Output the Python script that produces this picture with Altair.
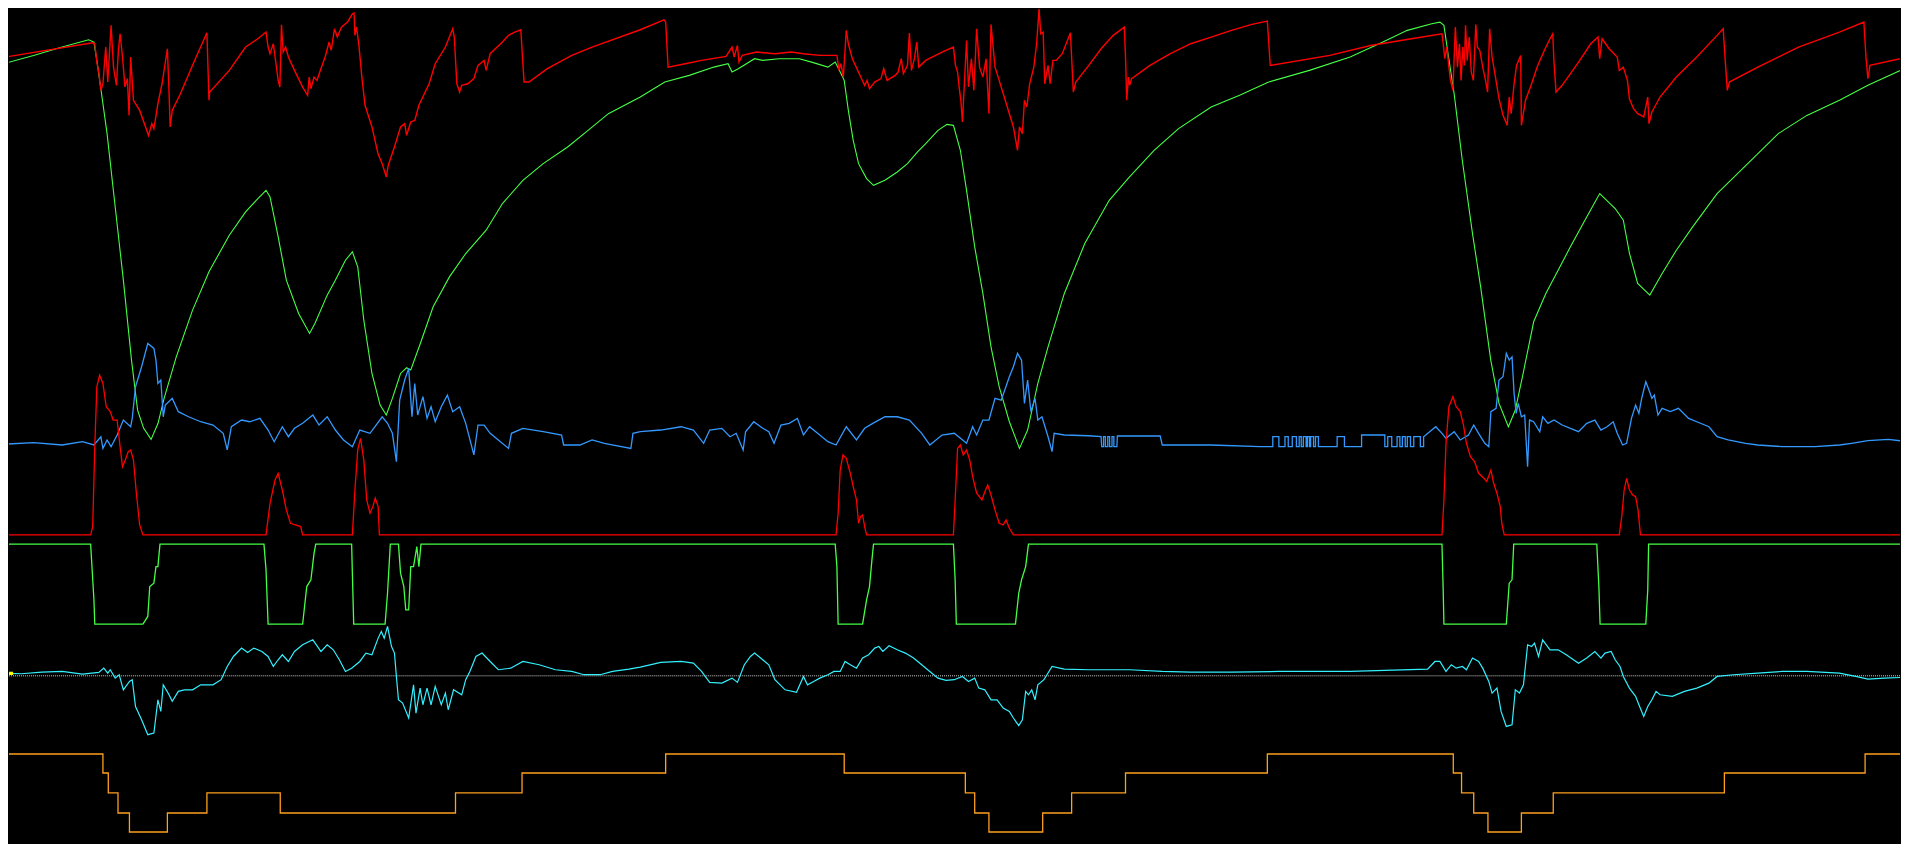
import altair as alt
import pandas as pd

# Time axis (sample index) and values in the chart's own unit (0 = top row, 700 = bottom row)
speed_pts = [
    (0, 47.1), (75.4, 34.8), (77.1, 35.6), (78.8, 50.7), (80.4, 58.9), (82.1, 73.9), (83.8, 68.5), (86.1, 38.3),
    (87.8, 67.1), (90.5, 20.5), (92.5, 54.8), (94.9, 69.8), (96.5, 41.1), (97.9, 27.4), (99.9, 46.5), (101.9, 71.2),
    (103.9, 64.3), (105.3, 94.5), (106.6, 46.5), (108.9, 82.1), (114, 90.4), (121.3, 110.9), (124, 101.3),
    (125.7, 105.4), (129, 84.9), (132.4, 68.5), (136.8, 39.7), (138.1, 73.9), (139.1, 104), (140.8, 90.4),
    (147.5, 76.7), (159.2, 49.3), (169.3, 26.6), (171, 82.1), (171.6, 75.3), (187.7, 57.5), (201.1, 38.3),
    (211.2, 31.5), (217.9, 26), (219.6, 38.3), (221.2, 43.8), (223.9, 35.6), (227.9, 65.7), (229.3, 71.2),
    (230.6, 20), (232, 42.4), (234, 38.3), (236.3, 46.5), (241.3, 57.5), (248, 71.2), (252.1, 78), (253.4, 63),
    (254.8, 72.6), (257.4, 63), (259.8, 65.7), (262.1, 58.9), (266.5, 46.5), (269.8, 34.2), (271.5, 41.1),
    (274.2, 23.3), (276.5, 30.1), (279.9, 21.9), (284.9, 17.8), (288.9, 11), (290.3, 10.4), (291, 28.7),
    (292.3, 21.9), (294.3, 37), (296.7, 63), (299.3, 86.2), (305, 104), (310, 126), (313.4, 134.2),
    (316.8, 145.1), (318.4, 135.5), (323.5, 120.5), (328.5, 104), (331.9, 101.3), (333.5, 110.9), (336.9, 99.9),
    (340.2, 98.6), (343.6, 86.2), (352, 68.5), (357, 52), (365.4, 38.3), (371.4, 23.3), (372.7, 30.1),
    (374.8, 68.5), (377.1, 75.3), (378.8, 69.8), (383.8, 68.5), (388.8, 64.3), (392.2, 53.4), (397.2, 49.3),
    (398.9, 57.5), (402.2, 43.8), (412.3, 34.2), (417.3, 28.7), (422.4, 26), (427.4, 24.1), (429.1, 52),
    (430.1, 67.1), (434.1, 67.1), (449.2, 56.1), (469.3, 45.2), (486, 38.3), (525.6, 24.1),
    (545.1, 15.9), (546.5, 17.8), (548.5, 54.8), (562.6, 52), (576, 49.3), (596.1, 46), (601.1, 38.3),
    (602.8, 46.5), (605.5, 37), (606.8, 50.7), (609.5, 45.2), (621.2, 42.4), (636.3, 43.8), (649.7, 42.4),
    (659.8, 43.8), (673.2, 45.2), (687.3, 45.2), (689, 57.5), (690.6, 52), (692.6, 63), (695, 24.6),
    (696.7, 35.6), (700, 47.9), (705, 58.9), (710.1, 69.8), (712.1, 65.7), (714.1, 72.6), (718.4, 67.1),
    (723.5, 64.3), (725.8, 56.1), (728.5, 65.7), (735.2, 61.6), (737.6, 58.9), (740.2, 47.9), (741.9, 60.2),
    (745.3, 53.4), (746.9, 26.8), (748.6, 57.5), (751, 47.9), (753, 34.2), (754.6, 54.8), (760.3, 49.3),
    (773.7, 42.4), (783.1, 38.3), (784.8, 53.4), (786.5, 58.9), (787.8, 71.2), (789.2, 82.1), (790.5, 99.9),
    (792.5, 60.2), (793.9, 32.9), (795.5, 71.2), (797.9, 47.9), (799.9, 73.9), (802.2, 23.3), (804.6, 54.8),
    (807.3, 63), (810, 47.9), (812.3, 93.1), (814, 19.7), (817.3, 54.8), (820.7, 65.7), (827.4, 87.6),
    (832.4, 104), (835.8, 123.2), (837.4, 104), (839.8, 109.5), (841.5, 82.1), (843.5, 87.6), (845.8, 68.5),
    (849.2, 54.8), (851.5, 35.6), (853.5, 6.8), (854.9, 27.4), (856.9, 26), (858.2, 68.5), (860.9, 53.4),
    (862.6, 68.5), (864.9, 49.3), (867.6, 49.3), (872.6, 43.8), (879.3, 26.6), (881.7, 75.3), (883.7, 67.1),
    (894.4, 53.4), (904.5, 39.7), (914.5, 28.7), (923.6, 21.9), (924.6, 46.5), (925.6, 82.1), (927, 63),
    (928, 69.8), (929.6, 64.3), (944.7, 53.4), (961.5, 43.8), (978.2, 35.6), (995, 30.1), (1011.7, 24.6),
    (1028.5, 19.7), (1041.2, 17), (1043.6, 53.4),
    (1092.6, 45.2), (1126.1, 37), (1159.6, 31.5), (1184.8, 27.4), (1185.8, 35.6), (1187.1, 47.9),
    (1188.8, 38.3), (1190.5, 54.8), (1191.8, 65.7), (1193.8, 73.9), (1195.8, 21.9), (1197.5, 54.8),
    (1199.2, 35.6), (1200.5, 65.7), (1201.9, 38.3), (1203.2, 53.4), (1204.2, 20.5), (1205.5, 49.3),
    (1207.2, 30.1), (1208.9, 58.9), (1210.6, 65.7), (1212.6, 19.7), (1213.9, 38.3), (1215.9, 41.1),
    (1218.3, 54.8), (1220.6, 65.7), (1222.3, 75.3), (1224, 23.3), (1226, 46.5), (1228.3, 60.2), (1231.7, 80.8),
    (1235, 94.5), (1238.4, 102.7), (1240.1, 79.4), (1241.7, 93.1), (1244.1, 68.5), (1246.1, 53.4),
    (1249.5, 45.2), (1250.1, 102.7), (1253.5, 82.1), (1258.5, 68.5), (1263.5, 53.4), (1269.6, 39.7),
    (1273.6, 31.5), (1275.9, 27.4), (1276.9, 50.7), (1278.6, 75.3), (1283.6, 69.8), (1297.1, 50.7),
    (1307.1, 35.6), (1313.1, 30.1), (1314.5, 47.9), (1316.5, 31.5), (1322.2, 39.7), (1328.9, 46.5),
    (1330.6, 57.5), (1333.9, 54.8), (1337.3, 65.7), (1338.9, 80.8), (1342.3, 89), (1345.7, 93.1),
    (1350.7, 95.8), (1354, 79.4), (1355, 101.3), (1357.4, 91.7), (1364.1, 79.4), (1377.5, 63), (1394.3, 46.5),
    (1411, 28.7), (1416, 23.3), (1417.7, 49.3), (1419.4, 73.9), (1421.1, 67.1), (1444.5, 54.8), (1478, 38.3),
    (1511.6, 26), (1531.7, 17.8), (1533.4, 46.5), (1535, 64.3), (1536.7, 53.4), (1568, 46.5),
]

rpm_pts = [
    (0, 52.6), (26.8, 45.2), (50.3, 38.3), (72.1, 32.3), (76.4, 34.2), (78.8, 49.3), (82.1, 72.6), (87.2, 109.5),
    (93.9, 169.8), (100.6, 230), (107.3, 295.7), (112.3, 336.8), (117.3, 351.8), (123.4, 360.9), (129.1, 347.7),
    (134.1, 327.2), (144.1, 293), (157.5, 254.6), (171, 223.1), (187.7, 193), (201.1, 173.9), (211.2, 162.9),
    (217.9, 156.1), (221.2, 161.5), (227.9, 194.4), (234.6, 230), (244.7, 257.4), (253.7, 273.8),
    (258.1, 265.6), (268.2, 242.3), (274.9, 230), (283.2, 213.6), (288.9, 206.7), (293.3, 219), (298.3, 262.8),
    (305, 306.7), (311.7, 332.7), (316.8, 340.9), (321.8, 327.2), (328.5, 306.7), (333.5, 302), (336.9, 303.9),
    (345.3, 280.6), (355.3, 251.9), (368.7, 227.3), (382.1, 208.1), (398.9, 188.9), (412.3, 167),
    (429.1, 147.9), (445.8, 134.2), (465.9, 120.5), (482.7, 106.8), (499.4, 93.1), (525.6, 79.4),
    (545.8, 67.1), (565.9, 61.6), (586.1, 54.8), (597.8, 52), (601.1, 58.9), (606.2, 56.1), (619.6, 47.9),
    (626.3, 49.3), (639.7, 47.9), (656.4, 47.9), (666.5, 50.7), (679.9, 54.8), (685.9, 50.7), (690, 58.9),
    (693.3, 65.7), (696.7, 90.4), (700.7, 115), (705.1, 134.2), (711.7, 146.5), (717.4, 152), (726.8, 147.9),
    (736.9, 141), (745.3, 134.2), (753.6, 124.6), (760.3, 117.7), (770.4, 106.8), (777.8, 101.9),
    (783.1, 102.7), (788.8, 123.2), (793.9, 156.1), (800.6, 202.6), (807.3, 240.9), (814, 284.8),
    (820.7, 317.6), (829.1, 346.4), (837.4, 368.3), (844.1, 353.2), (852.5, 314.9), (860.9, 284.8),
    (874.3, 240.9), (891.1, 199.9), (911.2, 164.3), (927.9, 145.1), (948.1, 123.2), (968.2, 105.4),
    (995, 87.6), (1018.4, 78), (1042.3, 67.1),
    (1075.8, 57.5), (1109.3, 46.5), (1136.2, 34.2), (1156.3, 24.6), (1176.4, 19.2), (1183.1, 17.8),
    (1186.4, 20.5), (1189.8, 43.8), (1194.8, 76.7), (1201.5, 131.4), (1209.9, 191.7), (1216.6, 235.5),
    (1224.9, 295.7), (1231.7, 331.3), (1239.4, 350.5), (1245.1, 336.8), (1251.8, 305.3), (1260.2, 264.2),
    (1270.2, 240.9), (1280.3, 221.8), (1290.4, 202.6), (1303.8, 178), (1314.5, 158.8), (1327.2, 171.1),
    (1333.9, 180.7), (1339, 208.1), (1345.7, 232.7), (1355.7, 242.3), (1365.8, 224.5), (1377.5, 205.4),
    (1390.9, 186.2), (1411, 158.8), (1427.8, 142.4), (1461.3, 109.5), (1484.8, 94.5), (1511.6, 82.1),
    (1535, 69.8), (1567.9, 54.8),
]

steer_pts = [
    (0, 365), (26.8, 363.6), (50.3, 365.5), (67, 362.8), (76.4, 365.5), (82.1, 358.7), (83.8, 368.3),
    (87.2, 361.4), (90.5, 366.9), (95.5, 357.3), (100.6, 345), (106.6, 350.5), (107.9, 343.6), (110.6, 317.6),
    (115.6, 301.2), (120.7, 282), (125.7, 286.1), (127.4, 295.7), (129, 314.9), (131.4, 312.1), (133.4, 342.3),
    (135.1, 332.7), (140.8, 327.2), (145.8, 338.1), (154.2, 342.3), (164.2, 346.4), (174.3, 349.1),
    (182.7, 355.9), (186, 369.6), (189.4, 350.5), (197.8, 345), (204.5, 346.4), (212.9, 343.6), (219.6, 353.2),
    (224.6, 362.8), (231.3, 350.5), (236.3, 358.7), (241.3, 351.8), (248, 347.7), (256.4, 340.9),
    (261.5, 349.1), (268.2, 342.3), (274.9, 353.2), (281.6, 361.4), (288.9, 366.9), (295, 353.2),
    (303.4, 355.9), (308.4, 349.1), (313.4, 342.3), (317.8, 347.7), (321.8, 355.9), (325.1, 379.2),
    (327.8, 328.6), (331.9, 312.1), (335.2, 302.5), (337.9, 342.3), (340.2, 314.9), (342.6, 340.9),
    (346.9, 325.8), (350.3, 343.6), (353.6, 334), (357, 346.4), (362, 334), (367, 324.5), (371.4, 338.1),
    (377.1, 334), (382.1, 347.7), (388.8, 373.7), (392.2, 349.1), (397.2, 349.1), (402.2, 355.9),
    (408.9, 361.4), (417.3, 368.3), (419.7, 355.9), (429.1, 351.8), (445.8, 354.6), (460.9, 357.3),
    (462.6, 365.5), (476, 365.5), (486, 361.4), (496.1, 364.1), (517.9, 368.3), (519.6, 355.9), (525.6, 354.6),
    (542.5, 353.2), (559.2, 350.5), (569.3, 353.2), (577.7, 364.1), (582.7, 353.2), (592.7, 351.8),
    (599.4, 358.7), (604.5, 355.9), (610.2, 369.6), (612.2, 354.6), (618.9, 346.4), (626.3, 351.8),
    (631.3, 354.6), (635.6, 364.1), (641.3, 349.1), (648.1, 347.7), (654.8, 343.6), (659.8, 357.3),
    (664.8, 350.5), (673.2, 357.3), (679.9, 362.8), (686.6, 365.5), (695, 350.5), (703.4, 361.4),
    (710.1, 351.8), (716.8, 347.7), (726.8, 342.3), (736.9, 342.3), (746.9, 345), (757, 355.9), (763.7, 365.5),
    (773.7, 357.3), (783.8, 355.9), (793.9, 364.1), (798.9, 350.5), (802.2, 357.3), (807.3, 345),
    (812.3, 345), (817.3, 327.2), (822.4, 328.6), (829.1, 309.4), (832.4, 301.2), (835.8, 290.2),
    (839.1, 295.7), (841.5, 331.3), (844.1, 312.1), (846.8, 338.1), (850.2, 327.2), (852.5, 345),
    (855.9, 342.3), (860.9, 358.7), (864.2, 371), (865.9, 355.9), (874.3, 357.3), (894.4, 357.9),
    (904.5, 358.7), (905, 366.9), (906.5, 366.9), (906.5, 358.7), (908, 358.7), (908, 366.9), (910, 366.9),
    (910, 358.7), (911.5, 358.7), (911.5, 366.9), (913.5, 366.9), (913.5, 358.7), (915, 358.7), (915, 366.9),
    (917.5, 366.9), (917.9, 358), (953.1, 358.1), (954.8, 365.5), (995, 365.5), (1035.2, 366.9),
    (1045.7, 366.9), (1045.7, 358.7), (1050.7, 358.7), (1050.7, 366.9), (1055.7, 366.9), (1055.7, 358.7),
    (1058.4, 358.7), (1058.4, 366.9), (1061.7, 366.9), (1061.7, 358.7), (1065.1, 358.7), (1065.1, 366.9),
    (1067.4, 366.9), (1067.4, 358.7), (1069.1, 358.7), (1069.1, 366.9), (1070.8, 366.9), (1070.8, 358.7),
    (1073.1, 358.7), (1073.1, 366.9), (1074.1, 366.9), (1074.1, 358.7), (1075.8, 358.7), (1075.8, 366.9),
    (1076.8, 366.9), (1076.8, 358.7), (1079.2, 358.7), (1079.2, 366.9), (1080.8, 366.9), (1080.8, 358.7),
    (1083.2, 358.7), (1083.2, 366.9), (1098.6, 366.9), (1098.6, 358.7), (1104.6, 358.7), (1104.6, 366.9),
    (1118.7, 366.9), (1118.7, 357.3), (1137.8, 357.3), (1137.8, 366.9), (1140.2, 366.9), (1140.2, 358.7),
    (1143.5, 358.7), (1143.5, 366.9), (1147.9, 366.9), (1147.9, 358.7), (1150.2, 358.7), (1150.2, 366.9),
    (1152.2, 366.9), (1152.2, 358.7), (1154.6, 358.7), (1154.6, 366.9), (1156.3, 366.9), (1156.3, 358.7),
    (1158.9, 358.7), (1158.9, 366.9), (1161.6, 366.9), (1161.6, 358.7), (1167, 358.7), (1167, 366.9),
    (1169.7, 366.9), (1169.7, 358.7), (1176.4, 353.2), (1179.7, 350.5), (1184.8, 355.9), (1188.1, 360),
    (1194.8, 354.6), (1199.8, 361.4), (1206.6, 357.3), (1210.9, 349.1), (1214.9, 355.9), (1220, 364.1),
    (1223.3, 366.9), (1225, 338.1), (1229.3, 335.4), (1231.7, 312.1), (1235, 309.4), (1237.7, 290.2),
    (1240.1, 295.7), (1242.4, 293), (1244.1, 323.1), (1245.8, 339.5), (1247.5, 331.3), (1250.1, 342.3),
    (1252.8, 340.9), (1255.2, 383.3), (1256.8, 345), (1260.2, 346.4), (1265.2, 354.6), (1267.6, 342.3),
    (1271.9, 347.7), (1276.9, 345), (1283.6, 349.1), (1290.4, 351.8), (1297.1, 354.6), (1303.8, 347.7),
    (1310.5, 345), (1315.5, 353.2), (1320.5, 350.5), (1325.6, 346.4), (1328.9, 355.9), (1333.3, 365.5),
    (1336.6, 364.1), (1340.6, 343.6), (1344, 332.7), (1346.7, 339.5), (1349, 327.2), (1352.4, 313.5),
    (1355, 320.3), (1357.4, 327.2), (1359.4, 324.5), (1362.4, 340.9), (1365.8, 335.4), (1372.5, 338.1),
    (1379.2, 335.4), (1387.6, 343.6), (1394.3, 346.4), (1404.3, 350.5), (1411, 358.7), (1420.1, 361.4),
    (1434.5, 364.1), (1444.5, 365.5), (1464.6, 366.9), (1491.5, 366.9), (1511.6, 365.5), (1521.6, 364.1),
    (1535, 362), (1551.8, 360.9), (1567.9, 362.8),
]

brake_pts = [
    (0, 439.4), (73.7, 439.4), (75.4, 432.6), (77.1, 366.9), (78.8, 317.6), (81.1, 308), (83.8, 314.9),
    (86.5, 334), (89.8, 338.1), (92.2, 345), (95.5, 345), (97.9, 366.9), (99.9, 383.3), (102.2, 377.8),
    (104.6, 371), (106.6, 369.6), (108.9, 377.8), (111.3, 405.2), (114, 431.2), (116.7, 439.4), (217.9, 439.4),
    (221.2, 413.4), (225.3, 394.3), (227.9, 388.8), (231.3, 402.5), (234.6, 418.9), (238, 429.9),
    (246.4, 432.6), (248, 439.4), (288.9, 439.4), (291, 402.5), (293.3, 369.6), (295.6, 360), (298.3, 377.8),
    (300.7, 410.7), (303.4, 421.6), (305.7, 416.2), (307.7, 409.3), (310.1, 416.2), (311.1, 439.4),
    (686.6, 439.4), (688.3, 421.6), (690, 386.1), (692.3, 373.7), (695, 376.5), (698.3, 388.8), (700.7, 399.7),
    (703.4, 410.7), (705.1, 429.9), (706.7, 424.4), (708.4, 423), (710.1, 432.6), (711.7, 439.4),
    (783.1, 439.4), (784.8, 405.2), (786.5, 368.3), (788.8, 365.5), (791.2, 373.7), (793.9, 369.6),
    (796.5, 377.8), (798.9, 391.5), (802.2, 405.2), (806.6, 410.7), (809, 403.8), (811.3, 398.4), (814, 406.6),
    (817.3, 418.9), (820.7, 429.9), (824, 431.2), (826.4, 427.1), (829.1, 434), (832.4, 439.4),
    (1184.8, 439.4), (1186.4, 410.7), (1188.1, 364.1), (1190.5, 334), (1193.8, 325.8), (1196.5, 334),
    (1199.8, 338.1), (1202.5, 349.1), (1204.9, 364.1), (1208.2, 375.1), (1211.6, 379.2), (1214.9, 388.8),
    (1219.3, 392.9), (1221.6, 395.6), (1225, 386.1), (1227.3, 397), (1230, 405.2), (1232.7, 416.2),
    (1234, 429.9), (1236, 439.4), (1330.6, 439.4), (1332.6, 424.4), (1334.6, 402.5), (1336.6, 392.9),
    (1339, 402.5), (1341.6, 406.6), (1344, 408), (1346, 418.9), (1348, 439.4), (1568, 439.4),
]

throttle_pts = [
    (0, 447.1), (73.7, 447.1), (76.4, 492.8), (77.1, 512.8), (116.7, 512.8), (120.7, 506.5), (122.3, 481.9),
    (125.7, 479.1), (127.4, 465.5), (129, 465.5), (130.7, 447.1), (216.2, 447.1), (217.9, 468.2),
    (219.6, 512.8), (248, 512.8), (251.4, 481.9), (254.8, 476.4), (257.4, 454.5), (258.8, 447.1),
    (288.3, 447.1), (288.9, 470.9), (290, 512.8), (315.8, 512.8), (317.8, 487.4), (320.1, 447.1),
    (326.8, 447.1), (328.5, 470.9), (331.2, 481.9), (332.8, 501), (335.2, 501), (336.9, 465.5), (339.2, 465.5),
    (341.9, 449), (343.6, 465.5), (345.3, 447.1), (685.9, 447.1), (687.3, 465.5), (688.3, 512.8),
    (708.4, 512.8), (711.7, 492.8), (714.1, 481.9), (716.1, 460), (717.4, 447.1), (783.1, 447.1),
    (784.5, 476.4), (785.5, 512.8), (834.1, 512.8), (836.8, 487.4), (839.1, 476.4), (842.5, 465.5),
    (844.8, 447.1), (1184.8, 447.1), (1185.8, 484.6), (1186.4, 512.8), (1237.7, 512.8), (1240.1, 479.1),
    (1242.4, 476.4), (1243.8, 447.1), (1312.1, 447.1), (1313.8, 481.9), (1314.8, 512.8), (1352.4, 512.8),
    (1354, 484.6), (1354.7, 447.1), (1568, 447.1),
]

latg_pts = [
    (0, 553.1), (16.8, 553.6), (33.5, 552.3), (50.3, 551.7), (67, 553.9), (80.4, 552.5), (84.5, 549),
    (87.8, 553.1), (89.8, 550.3), (93.9, 557.2), (97.2, 554.4), (100.6, 566.8), (105.6, 559.9), (107.9, 558.5),
    (110.6, 580.5), (115.6, 591.4), (120.7, 603.7), (125.7, 602.4), (129, 575), (131.4, 584.6), (133.4, 562.7),
    (137.4, 569.5), (140.8, 576.3), (145.8, 568.1), (150.8, 566.8), (157.5, 566.8), (164.2, 562.7),
    (174.3, 562.7), (181, 558.5), (186, 547.6), (191.1, 539.4), (197.8, 532.5), (202.8, 536.1), (207.8, 532.5),
    (214.5, 535.3), (219.6, 539.4), (223.9, 547.6), (227.9, 542.1), (231.3, 538), (236.3, 543.5),
    (241.3, 535.3), (248, 529.8), (256.4, 525.7), (263.1, 535.3), (268.2, 529.8), (273.2, 533.9),
    (278.2, 542.1), (283.2, 551.7), (288.3, 549), (295, 543.5), (300, 536.6), (305, 538), (310.1, 524.3),
    (312.7, 518.8), (315.1, 524.3), (317.8, 514.7), (321.1, 531.2), (323.5, 536.6), (325.1, 555.8),
    (326.8, 575), (330.2, 577.7), (335.2, 590), (339.2, 562.7), (341.2, 586), (344.6, 565.4), (346.9, 579.1),
    (350.3, 565.4), (353.6, 579.1), (357, 564), (362, 579.1), (365.4, 569.5), (367.7, 583.2), (372.1, 566.8),
    (378.8, 570.9), (382.1, 558.5), (385.5, 551.7), (390.5, 539.4), (395.5, 536.6), (402.2, 543.5),
    (408.9, 550.3), (419, 549), (429.1, 543.5), (442.5, 546.2), (455.9, 550.3), (469.3, 551.7),
    (479.3, 554.4), (492.7, 554.4), (502.8, 551.7), (516.2, 549.8), (525.6, 548.1),
    (542.5, 544.3), (559.2, 543.5), (569.3, 544.9), (576, 551.7), (582.7, 560.7), (592.7, 561.3),
    (601.1, 557.2), (605.5, 560.7), (611.2, 546.2), (616.2, 539.4), (619.6, 536.6), (626.3, 542.1),
    (631.3, 546.2), (636.3, 558.5), (644.7, 566.8), (654.1, 568.9), (659.8, 555.8), (663.1, 562.7),
    (668.2, 559.9), (673.2, 557.2), (679.9, 554.4), (684.9, 551.7), (690, 551.7), (694, 543.5), (698.3, 546.2),
    (703.4, 549), (708.4, 540.7), (713.4, 538), (718.4, 532.5), (721.8, 531.2), (725.1, 535.3), (730.2, 530.6),
    (736.9, 533.9), (743.6, 536.6), (750.3, 540.7), (757, 546.2), (763.7, 551.7), (770.4, 557.2),
    (777.1, 559.1), (783.8, 558.5), (790.5, 555.8), (795.5, 559.9), (800.6, 557.2), (803.9, 565.4),
    (808.9, 566.8), (814, 575), (819, 575), (824, 581.8), (829.1, 584.6), (832.4, 590), (836.8, 596.3),
    (839.8, 591.4), (842.5, 568.1), (844.8, 570.9), (847.5, 566.8), (850.2, 575), (852.5, 562.7),
    (857.5, 558.5), (864.2, 547.6), (874.3, 549.8), (894.4, 550.3), (927.9, 550.3), (954.8, 551.7),
    (978.2, 552.3), (1011.7, 552.3), (1051.3, 551.7),
    (1109.3, 551.7), (1173, 549.8), (1179, 543.5), (1183.1, 543.5), (1188.1, 551.7), (1192.5, 546.2),
    (1196.5, 549), (1201.5, 547.6), (1204.9, 550.3), (1209.9, 540.7), (1214.9, 543.5), (1218.3, 549),
    (1223.3, 559.9), (1226, 569.5), (1230, 565.4), (1233.4, 584.6), (1237.7, 596.9), (1242.4, 595.5),
    (1245.1, 566.8), (1248.5, 569.5), (1251.8, 562.7), (1255.2, 529.8), (1258.5, 531.2), (1260.9, 528.4),
    (1264.2, 539.4), (1267.6, 525.7), (1273.6, 533.9), (1280.3, 533.9), (1287, 538), (1297.1, 544.9),
    (1303.8, 540.7), (1310.5, 535.3), (1315.5, 540.7), (1318.8, 536.6), (1323.9, 535.3), (1327.2, 542.1),
    (1331.2, 547.6), (1333.9, 555.8), (1338.9, 565.4), (1344, 572.2), (1347.3, 580.5), (1350.7, 588.7),
    (1354, 580.5), (1357.4, 575), (1360.8, 568.1), (1364.1, 570.9), (1374.2, 572.2), (1384.2, 568.1),
    (1394.3, 565.4), (1404.3, 561.3), (1411, 555.8), (1424.4, 554.4), (1444.5, 553.1), (1464.6, 551.7),
    (1484.8, 551.7), (1511.6, 553.1), (1525, 555.8), (1535, 558), (1548.5, 557.2), (1567.9, 556.4),
]

gear_pts = [
    (0, 619.6), (83.8, 635.2), (88.2, 651.6), (96.2, 668.1), (105.6, 683.7), (136.8, 668.1), (169.3, 651.6),
    (229.6, 668.1), (373.7, 651.6), (428.4, 635.2), (546.5, 619.6), (693.3, 635.2), (792.9, 651.6),
    (800.6, 668.1), (812.3, 683.7), (856.5, 668.1), (880.3, 651.6), (924.6, 635.2), (1041.2, 619.6),
    (1194.1, 635.2), (1200.9, 651.6), (1210.9, 668.1), (1222.6, 683.7), (1250.1, 668.1), (1276.3, 651.6),
    (1417, 635.2), (1532.7, 619.6), (1568, 619.6),
]

latg_zero = [555.3]
marker_box = {"t": [6.6], "t2": [9.9], "v": [552.0], "v2": [554.6]}

# The plot area starts 8px into the page, so the visible window of the data is offset accordingly
X_DOMAIN = [6.571, 1561.4]
Y_DOMAIN = [6.571, 693.22]


def frame(pts):
    return pd.DataFrame({
        "t": [p[0] for p in pts],
        "v": [p[1] for p in pts],
        "i": list(range(len(pts))),
    })


xscale = alt.Scale(domain=X_DOMAIN, nice=False, zero=False)
yscale = alt.Scale(domain=Y_DOMAIN, reverse=True, nice=False, zero=False)
xenc = alt.X("t:Q", scale=xscale, axis=None)
yenc = alt.Y("v:Q", scale=yscale, axis=None)


def trace(pts, color, width=1.2, interp="linear"):
    return alt.Chart(frame(pts)).mark_line(
        color=color, strokeWidth=width, interpolate=interp, clip=True
    ).encode(x=xenc, y=yenc, order=alt.Order("i:Q"))


zero_line = alt.Chart(pd.DataFrame({"v": latg_zero})).mark_rule(
    color="#d0d0d0", strokeWidth=1, strokeDash=[1, 1]
).encode(y=yenc)

marker = alt.Chart(pd.DataFrame(marker_box)).mark_rect(color="#ffff00", clip=True).encode(
    x=xenc, x2="t2:Q", y=yenc, y2="v2:Q"
)

chart = alt.layer(
    zero_line,
    trace(rpm_pts, "#44ff44", 1.1),
    trace(steer_pts, "#3399ff", 1.3),
    trace(brake_pts, "#ff0000", 1.3),
    trace(throttle_pts, "#44ff44", 1.3),
    trace(latg_pts, "#33f0ff", 1.2),
    trace(gear_pts, "#ffa01e", 1.3, "step-after"),
    trace(speed_pts, "#ff0000", 1.4),
    marker,
).properties(
    width=1893, height=836, padding=0, background="#000000"
).configure_view(stroke=None)

chart.save("out.html", embed_options={"renderer": "svg", "actions": False})
